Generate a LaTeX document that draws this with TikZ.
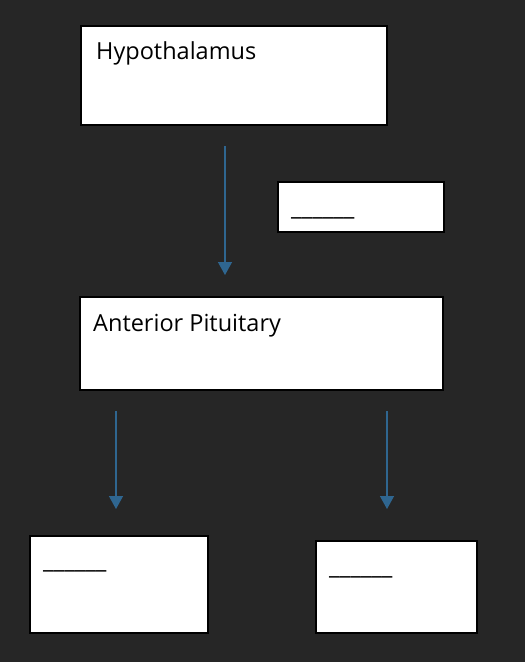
\documentclass[tikz,border=0pt]{standalone}
\usepackage{fontspec}
\setmainfont{Open Sans}
\usetikzlibrary{arrows.meta}
\definecolor{bg}{HTML}{262626}
\definecolor{arr}{HTML}{2F6690}
\tikzset{
  box/.style={draw=black, line width=2pt, fill=white, inner sep=0pt, anchor=north west},
  lbl/.style={anchor=base west, inner sep=0pt, font=\fontsize{23.5}{28}\selectfont, text=black},
  blank/.style={anchor=base west, inner sep=0pt, font=\fontsize{23.5}{28}\selectfont, text=black},
  conn/.style={draw=arr, line width=1.3pt, -{Triangle[width=14pt,length=13pt]}}
}
\begin{document}
\begin{tikzpicture}[x=1pt,y=-1pt]
\fill[bg] (0,0) rectangle (525,662);
\useasboundingbox (0,0) rectangle (525,662);
% boxes
\node[box, minimum width=306pt, minimum height=99pt] (hyp) at (80,25) {};
\node[box, minimum width=166pt, minimum height=50pt] (small) at (277,181) {};
\node[box, minimum width=363pt, minimum height=93pt] (ant) at (79,296) {};
\node[box, minimum width=178pt, minimum height=97pt] (bl) at (29,535) {};
\node[box, minimum width=161pt, minimum height=92pt] (br) at (315,540) {};
% texts
\node[lbl] (hyptext) at (96,59) {Hypothalamus};
\node[lbl] (anttext) at (93,331.5) {Anterior Pituitary};
\node[blank] (smallblank) at (291,215.5) {\_\_\_\_\_\_};
\node[blank] (blblank) at (43,568) {\_\_\_\_\_\_};
\node[blank] (brblank) at (329,574) {\_\_\_\_\_\_};
% connector ends
\coordinate (a1s) at (225,146);
\coordinate (a1e) at (225,275);
\coordinate (a2s) at (116,411);
\coordinate (a2e) at (116,509);
\coordinate (a3s) at (387,411);
\coordinate (a3e) at (387,509);
\draw[conn] (a1s) -- (a1e);
\draw[conn] (a2s) -- (a2e);
\draw[conn] (a3s) -- (a3e);
\end{tikzpicture}
\end{document}
